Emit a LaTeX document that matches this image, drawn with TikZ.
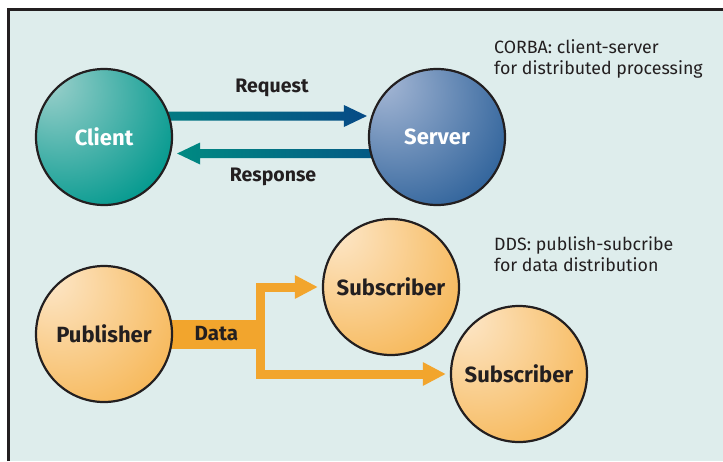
\documentclass[tikz,border=0pt]{standalone}
\usepackage{fontspec}
\setmainfont{Fira Sans}
\usetikzlibrary{arrows.meta, positioning, calc, backgrounds}

\definecolor{framebg}{RGB}{222,237,236}
\definecolor{inkdark}{RGB}{35,31,32}
\definecolor{tealhi}{RGB}{172,214,210}
\definecolor{tealmid}{RGB}{0,152,141}
\definecolor{teallo}{RGB}{0,126,116}
\definecolor{bluehi}{RGB}{172,188,216}
\definecolor{bluemid}{RGB}{38,92,150}
\definecolor{bluelo}{RGB}{6,68,128}
\definecolor{orghi}{RGB}{253,233,206}
\definecolor{orgmid}{RGB}{246,180,80}
\definecolor{orglo}{RGB}{239,156,32}
\definecolor{dataorange}{RGB}{242,165,45}
\definecolor{arrowteal}{RGB}{0,138,130}
\definecolor{arrowblue}{RGB}{6,74,134}

\pgfdeclareradialshading{clientball}{\pgfpoint{-22bp}{22bp}}{color(0bp)=(tealhi); color(6bp)=(tealhi!80!tealmid); color(42bp)=(tealmid); color(82bp)=(teallo)}
\pgfdeclareradialshading{serverball}{\pgfpoint{-22bp}{22bp}}{color(0bp)=(bluehi); color(6bp)=(bluehi!85!bluemid); color(45bp)=(bluemid); color(82bp)=(bluelo)}
\pgfdeclareradialshading{orangeball}{\pgfpoint{-22bp}{22bp}}{color(0bp)=(orghi); color(6bp)=(orghi!85!orgmid); color(45bp)=(orgmid); color(82bp)=(orglo)}

\begin{document}
\begin{tikzpicture}[
    x=1pt, y=-1pt,
    ball/.style={circle, draw=inkdark, line width=2.2pt, minimum size=136pt, inner sep=0pt, font=\bfseries\fontsize{22}{26}\selectfont},
    lightball/.style={ball, shading=orangeball, text=inkdark},
    arrowlabel/.style={font=\bfseries\fontsize{19.5}{22}\selectfont, text=inkdark},
    note/.style={align=left, inner sep=0pt, anchor=north west, font=\fontsize{17.8}{21.5}\selectfont, text=inkdark},
    gradarrow/.style={left color=arrowteal, right color=arrowblue},
    databranch/.style={line width=9pt, dataorange, line join=miter, shorten >=4pt, -{Triangle[length=23pt, width=22pt]}}
]
\useasboundingbox (0,0) rectangle (723,461);
\begin{scope}[on background layer]
\fill[white] (0,0) rectangle (723,461);
\fill[framebg] (8.7,9.7) rectangle (723,461);
\draw[line width=2.5pt, inkdark] (8.7,461) -- (8.7,9.7) -- (723,9.7);
\end{scope}

\node[ball, shading=clientball, text=white] (client) at (104,137) {Client};
\node[ball, shading=serverball, text=white] (server) at (437,137) {Server};
\node[lightball] (publisher) at (104,334) {Publisher};
\node[lightball] (sub1) at (391,287) {Subscriber};
\node[lightball] (sub2) at (519,374) {Subscriber};

\node[arrowlabel] (reqlabel) at (272,88) {Request};
\node[arrowlabel] (resplabel) at (273,177) {Response};

\node[note] (corbanote) at (494,39) {CORBA: client-server\\for distributed processing};
\node[note] (ddsnote) at (494,236) {DDS: publish-subcribe\\for data distribution};

% arrows go behind the circles
\coordinate (reqtip) at ($(server.west)+(-1,-21)$);
\coordinate (reqtail) at (client.center |- reqtip);
\coordinate (resptip) at ($(client.east)+(4,16.5)$);
\coordinate (resptail) at (server.center |- resptip);
\coordinate (datajoint) at ($(publisher.center)+(156,0)$);

\begin{scope}[on background layer]
\shade[gradarrow] ($(reqtail)+(0,-4.5)$) -- ($(reqtip)+(-23,-4.5)$) -- ($(reqtip)+(-23,-11)$) -- (reqtip)
  -- ($(reqtip)+(-23,11)$) -- ($(reqtip)+(-23,4.5)$) -- ($(reqtail)+(0,4.5)$) -- cycle;
\shade[gradarrow] ($(resptail)+(0,-4.5)$) -- ($(resptip)+(23,-4.5)$) -- ($(resptip)+(23,-11)$) -- (resptip)
  -- ($(resptip)+(23,11)$) -- ($(resptip)+(23,4.5)$) -- ($(resptail)+(0,4.5)$) -- cycle;

\draw[line width=29pt, dataorange] (publisher.center) -- ($(datajoint)+(4.5,0)$)
  node[pos=0.7, arrowlabel, font=\bfseries\fontsize{20.5}{22}\selectfont] (datalabel) {Data};
\draw[databranch] (datajoint) |- (sub1.west);
\draw[databranch] (datajoint) |- (sub2.west);
\end{scope}
\end{tikzpicture}
\end{document}
